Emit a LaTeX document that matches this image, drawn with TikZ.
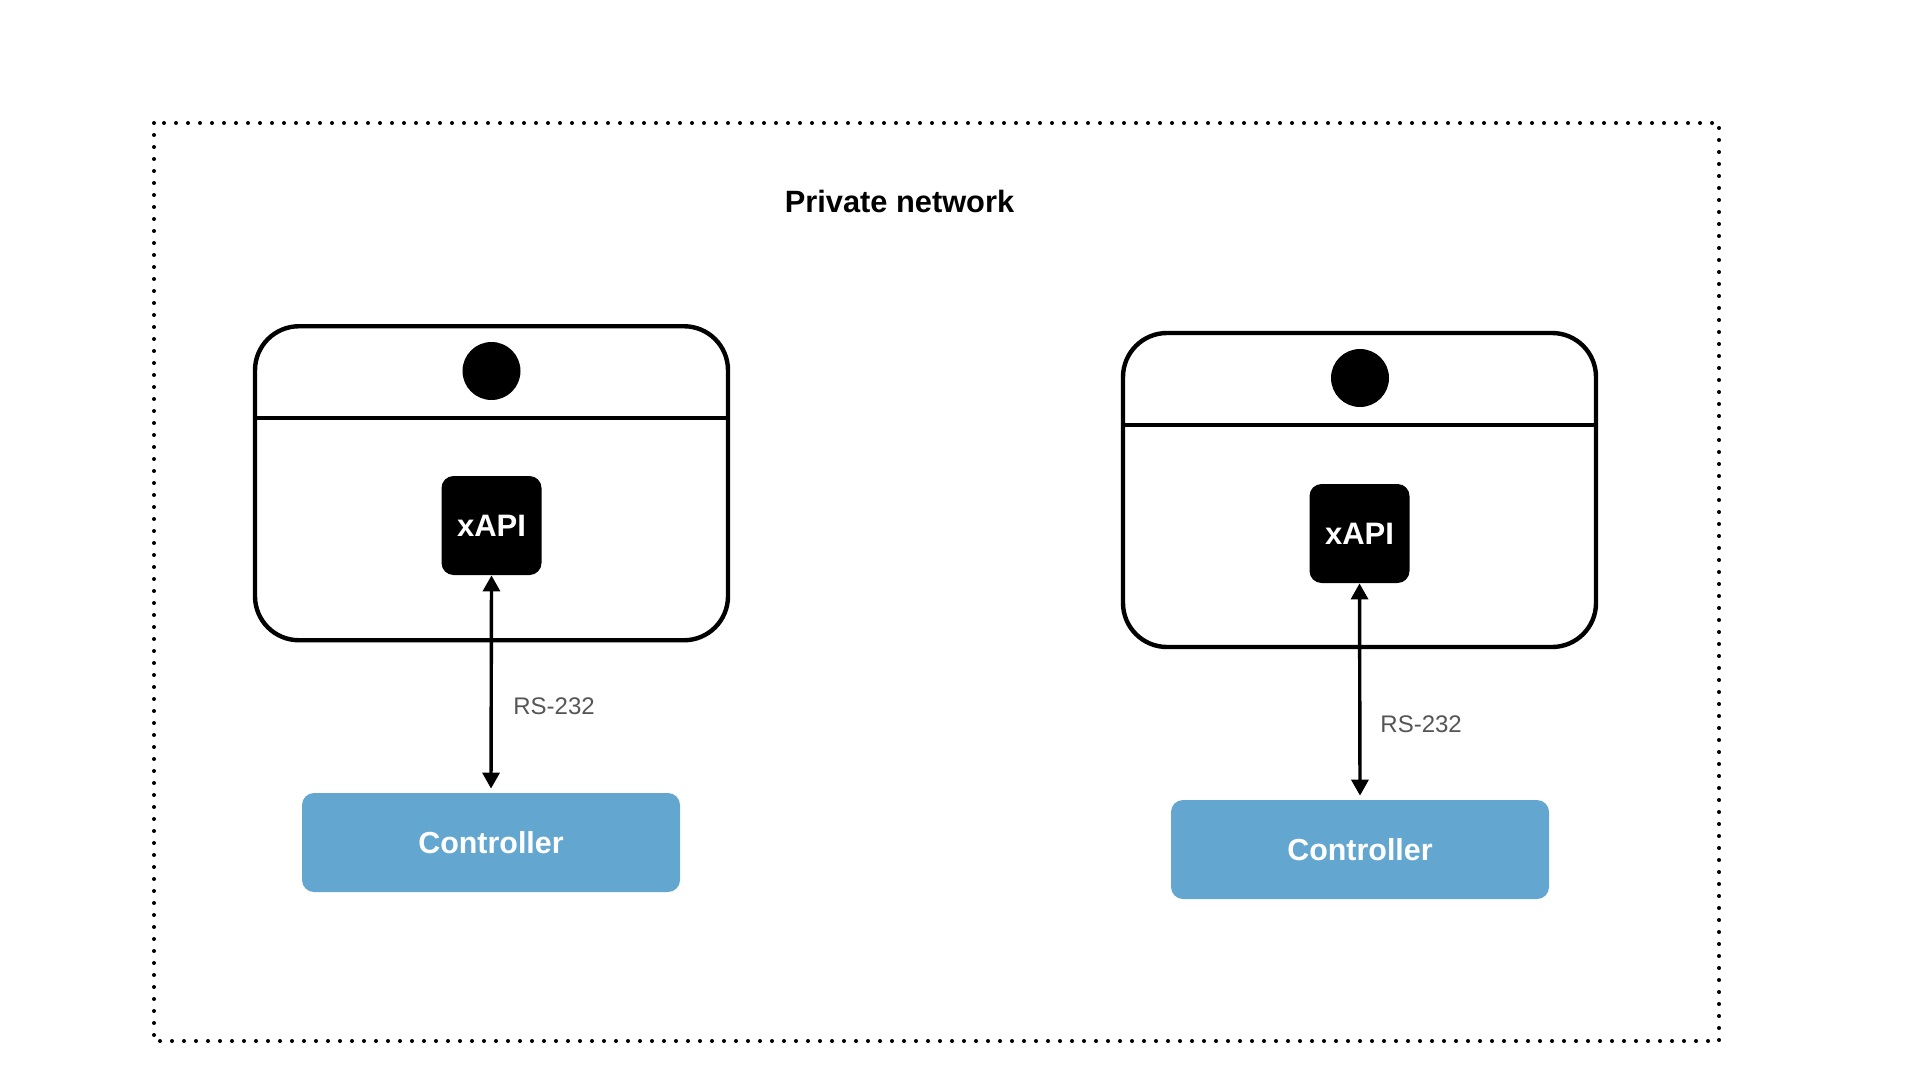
\documentclass[tikz,border=0pt]{standalone}
\usepackage{fontspec}
\setmainfont{Liberation Sans}
\usetikzlibrary{arrows.meta}
\definecolor{ctrlblue}{RGB}{99,167,208}
\definecolor{labelgray}{RGB}{85,85,85}
\tikzset{
  device/.style={draw=black, line width=2.2pt, rounded corners=22pt, minimum width=236.5pt, minimum height=157pt, inner sep=0pt},
  divider/.style={draw=black, line width=2.2pt},
  lens/.style={circle, fill=black, minimum size=29pt, inner sep=0pt},
  xapibox/.style={fill=black, rounded corners=6pt, minimum width=50pt, minimum height=49.5pt, inner sep=0pt, text=white, font=\bfseries\fontsize{15.5pt}{18pt}\selectfont},
  ctrlbox/.style={fill=ctrlblue, rounded corners=6pt, minimum width=189pt, minimum height=49.5pt, inner sep=0pt, text=white, font=\bfseries\fontsize{15.2pt}{18pt}\selectfont},
  link/.style={line width=1.7pt, {Triangle[length=8pt,width=8.5pt]}-{Triangle[length=8pt,width=8.5pt]}},
  linklabel/.style={anchor=west, inner sep=0pt, text=labelgray, font=\fontsize{12pt}{14pt}\selectfont},
  netbox/.style={draw=black, line width=2pt, line cap=round, dash pattern=on 0pt off 6pt},
  title/.style={anchor=base, inner sep=0pt, font=\bfseries\fontsize{15.4pt}{18pt}\selectfont}
}
\begin{document}
\begin{tikzpicture}[x=0.5pt, y=-0.5pt]
\useasboundingbox (0,0) rectangle (1920,1080);
% private network
\draw[netbox] (154,123) rectangle (1719,1041);
\node[title] (ttl) at (899.5,213) {Private network};

% left device
\node[device] (devA) at (491.5,483.25) {};
\coordinate (dAl) at (devA.west |- 0,417.7);
\coordinate (dAr) at (devA.east |- 0,417.7);
\draw[divider] (dAl) -- (dAr);
\node[lens] (lensA) at (491.5,371) {};
\node[xapibox] (xA) at (491.5,525.5) {xAPI};
\node[ctrlbox] (cA) at (491,842.5) {Controller};
\draw[link] (xA.south) -- ([yshift=2pt]cA.north);
\node[linklabel] (lA) at (513,706) {RS-232};

% right device
\node[device] (devB) at (1359.5,490) {};
\coordinate (dBl) at (devB.west |- 0,425);
\coordinate (dBr) at (devB.east |- 0,425);
\draw[divider] (dBl) -- (dBr);
\node[lens] (lensB) at (1360,378) {};
\node[xapibox] (xB) at (1359.5,533.5) {xAPI};
\node[ctrlbox] (cB) at (1360,849.5) {Controller};
\draw[link] (xB.south) -- ([yshift=2pt]cB.north);
\node[linklabel] (lB) at (1380,724) {RS-232};
\end{tikzpicture}
\end{document}
